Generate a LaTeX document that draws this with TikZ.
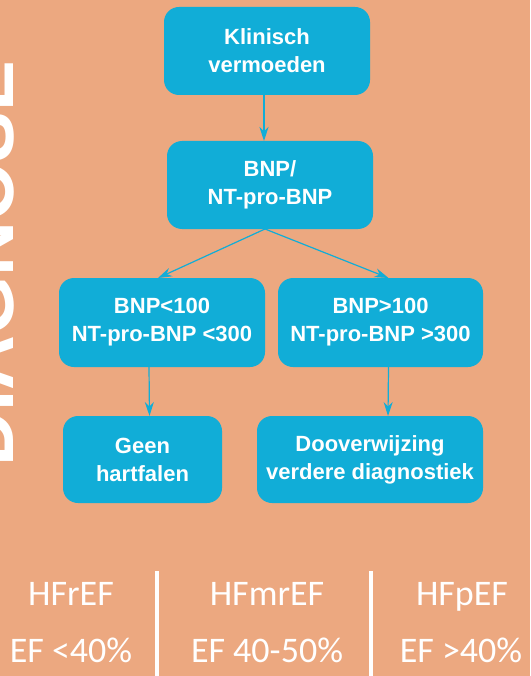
\documentclass[tikz,border=0pt]{standalone}
\usepackage{fontspec}
\setmainfont{Liberation Sans}
\newfontfamily\effont{Carlito}
\usetikzlibrary{arrows.meta}
\definecolor{bgorange}{RGB}{236,168,128}
\definecolor{boxblue}{RGB}{17,173,215}

\begin{document}
\begin{tikzpicture}[x=1pt,y=-1pt,inner sep=0pt,outer sep=0pt,
    box/.style={fill=boxblue, rounded corners=15pt, text=white, align=center,
        font=\bfseries\fontsize{22}{28}\selectfont},
    arr/.style={draw=boxblue, line width=1.2pt, -{Stealth[length=14pt,width=9pt,inset=4.5pt]}},
    eftext/.style={text=white, anchor=base, font=\effont\fontsize{36}{36}\selectfont},
    sepline/.style={draw=white, line width=4pt}]
    %
    \useasboundingbox (0,0) rectangle (530,676);
    \fill[bgorange] (0,0) rectangle (530,676);
    \clip (0,0) rectangle (530,676);
    \node[rotate=90, anchor=base west, text=white,
        font=\bfseries\fontsize{76}{76}\selectfont] (diagnose) at (13,466) {DIAGNOSE};
    %
	\node[box, minimum width=206pt, minimum height=88pt] (klinisch) at (267,51) {Klinisch\\vermoeden};
	\node[box, minimum width=206pt, minimum height=88pt] (bnp) at (270,185) {BNP/\\NT-pro-BNP};
	\node[box, minimum width=206pt, minimum height=89pt] (laag) at (162,322.5) {BNP<100\\NT-pro-BNP <300};
	\node[box, minimum width=205pt, minimum height=89pt] (hoog) at (380.5,322.5) {BNP>100\\NT-pro-BNP >300};
	\node[box, minimum width=159pt, minimum height=87pt] (geen) at (142.5,459.5) {Geen\\hartfalen};
	\node[box, minimum width=226pt, minimum height=87pt] (doorverwijzing) at (370,459.5) {Dooverwijzing\\verdere diagnostiek};
    %
    \draw[arr] ([xshift=-3pt]klinisch.south) -- ([xshift=-6pt]bnp.north);
    \draw[arr] ([xshift=-5pt]bnp.south) -- ([xshift=-4pt]laag.north);
    \draw[arr] ([xshift=-5pt]bnp.south) -- ([xshift=8pt]hoog.north);
    \draw[arr] ([xshift=-13pt]laag.south) -- ([xshift=7pt]geen.north);
    \draw[arr] ([xshift=8pt]hoog.south) -- ([xshift=18pt]doorverwijzing.north);
    %
    \draw[sepline] (157,571) -- (157,676);
    \draw[sepline] (370.5,571) -- (370.5,676);
	\node[eftext] (hfref) at (71,605) {HFrEF};
	\node[eftext] (efref) at (71,662) {EF <40\%};
	\node[eftext] (hfmref) at (267,605) {HFmrEF};
	\node[eftext] (efmref) at (267,662) {EF 40-50\%};
	\node[eftext] (hfpef) at (462,605) {HFpEF};
	\node[eftext] (efpef) at (461,662) {EF >40\%};
\end{tikzpicture}
\end{document}
